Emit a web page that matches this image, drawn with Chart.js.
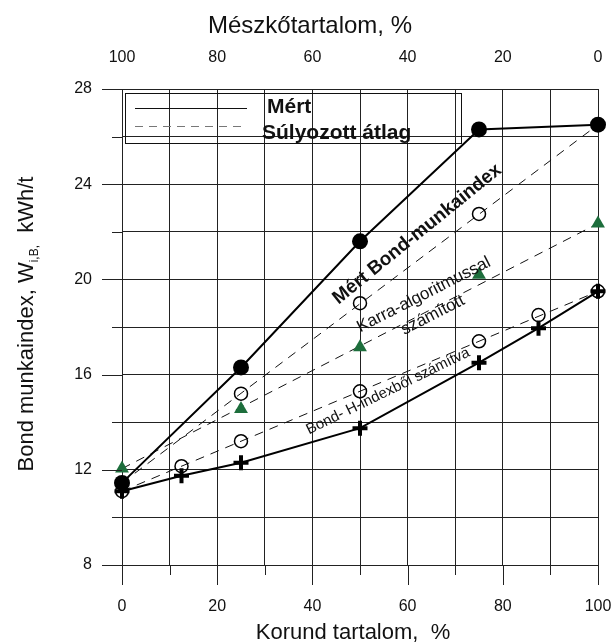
<!DOCTYPE html>
<html><head><meta charset="utf-8">
<script src="https://cdn.jsdelivr.net/npm/chart.js@4/dist/chart.umd.min.js"></script>
<style>html,body{margin:0;padding:0;background:#fff}</style>
</head><body>
<canvas id="c" width="612" height="643" style="width:612px;height:643px;display:block"></canvas>
<script>
// ---- data ----
const measuredX = [0, 25, 50, 75, 100];
const measuredY = [11.45, 16.3, 21.6, 26.3, 26.5];           // Mért Bond-munkaindex
const measuredAvgPtsX = [25, 50, 75];
const measuredAvgPtsY = [15.2, 19.0, 22.75];                  // súlyozott átlag (open circles)
const measuredAvgLineX = [0, 100];
const measuredAvgLineY = [11.45, 26.5];
const karraX = [0, 25, 50, 75, 100];
const karraY = [12.05, 14.55, 17.15, 20.2, 22.35];            // Karra-algoritmussal számított
const karraAvgLineX = [0, 100];
const karraAvgLineY = [12.05, 22.35];
const bondHX = [0, 12.5, 25, 50, 75, 87.5, 100];
const bondHY = [11.1, 11.75, 12.3, 13.75, 16.5, 17.95, 19.5]; // Bond- H-indexből számítva
const bondHAvgPtsY = [11.1, 12.15, 13.2, 15.3, 17.4, 18.5, 19.5];
const bondHAvgLineX = [0, 100];
const bondHAvgLineY = [11.1, 19.5];
const xTickLabels = [0, 20, 40, 60, 80, 100];
const topTickLabels = [100, 80, 60, 40, 20, 0];
const yTickLabels = [8, 12, 16, 20, 24, 28];

const FONT = "'Liberation Sans', Arial, sans-serif";
const pts = (xs, ys) => xs.map((x, i) => ({x, y: ys[i]}));
const GREEN = '#1d6e3c';
const DASH = [9, 7];

const decor = {
  id: 'decor',
  afterDatasetsDraw(chart) {
    const {ctx, chartArea: a, scales: {x, y}} = chart;
    ctx.save();
    // tick extensions
    ctx.strokeStyle = '#222'; ctx.lineWidth = 1;
    for (let v = 0; v <= 100; v += 10) {
      const px = Math.round(x.getPixelForValue(v)) + 0.5;
      ctx.beginPath(); ctx.moveTo(px, a.bottom); ctx.lineTo(px, a.bottom + (v % 20 === 0 ? 20 : 10)); ctx.stroke();
    }
    for (let v = 8; v <= 28; v += 2) {
      const py = Math.round(y.getPixelForValue(v)) + 0.5;
      ctx.beginPath(); ctx.moveTo(a.left, py); ctx.lineTo(a.left - (v % 4 === 0 ? 20 : 10), py); ctx.stroke();
    }
    // legend
    ctx.strokeStyle = '#111';
    ctx.strokeRect(125.5, 93.5, 336, 50);
    ctx.beginPath(); ctx.moveTo(135, 108.5); ctx.lineTo(247, 108.5); ctx.stroke();
    ctx.strokeStyle = '#777'; ctx.setLineDash([8, 6]);
    ctx.beginPath(); ctx.moveTo(135, 126.5); ctx.lineTo(247, 126.5); ctx.stroke();
    ctx.setLineDash([]);
    ctx.fillStyle = '#111';
    ctx.font = 'bold 21px ' + FONT;
    ctx.textAlign = 'left'; ctx.textBaseline = 'alphabetic';
    ctx.fillText('Mért', 267, 113);
    ctx.fillText('Súlyozott átlag', 262, 139);
    // axis titles
    ctx.textAlign = 'center';
    ctx.font = '24px ' + FONT;
    ctx.fillText('Mészkőtartalom, %', 310, 33);
    ctx.font = '22px ' + FONT;
    ctx.fillText('Korund tartalom,  %', 353, 639);
    // annotations
    const rot = (txt, vx, vy, deg, font) => {
      ctx.save();
      ctx.translate(x.getPixelForValue(vx), y.getPixelForValue(vy));
      ctx.rotate(deg * Math.PI / 180);
      ctx.font = font; ctx.textAlign = 'center'; ctx.textBaseline = 'middle';
      ctx.fillText(txt, 0, 0);
      ctx.restore();
    };
    rot('Mért Bond-munkaindex', 62.0, 21.9, -39, 'bold 19px ' + FONT);
    rot('Karra-algoritmussal', 63.4, 19.35, -27, '17px ' + FONT);
    rot('számított', 65.3, 18.5, -27, '17px ' + FONT);
    rot('Bond- H-indexből számítva', 55.9, 15.3, -26, '15px ' + FONT);
    // y-axis title with subscript
    ctx.save();
    ctx.translate(33, 324);
    ctx.rotate(-Math.PI / 2);
    ctx.textAlign = 'left'; ctx.textBaseline = 'alphabetic';
    const f1 = '22px ' + FONT, f2 = '12px ' + FONT;
    const s1 = 'Bond munkaindex, W', s2 = 'i,B,', s3 = '  kWh/t';
    ctx.font = f1; const w1 = ctx.measureText(s1).width, w3 = ctx.measureText(s3).width;
    ctx.font = f2; const w2 = ctx.measureText(s2).width;
    let cx = -(w1 + w2 + w3) / 2;
    ctx.font = f1; ctx.fillText(s1, cx, 0); cx += w1;
    ctx.font = f2; ctx.fillText(s2, cx, 5); cx += w2;
    ctx.font = f1; ctx.fillText(s3, cx, 0);
    ctx.restore();
    ctx.restore();
  }
};

const fixX = s => { s.height = 78; s.paddingLeft = 0; s.paddingRight = 0; };
const fixTop = s => { s.height = 89; s.paddingLeft = 0; s.paddingRight = 0; };
const fixY = s => { s.width = 122; s.paddingTop = 0; s.paddingBottom = 0; };

new Chart(document.getElementById('c'), {
  type: 'scatter',
  data: {
    datasets: [
      { data: pts(measuredX, measuredY), showLine: true, borderColor: '#000', borderWidth: 2, clip: false,
        pointRadius: 8, pointBackgroundColor: '#000', pointBorderColor: '#000', pointBorderWidth: 0 },
      { data: pts(bondHX, bondHY), showLine: true, borderColor: '#000', borderWidth: 2, clip: false,
        pointStyle: 'cross', pointRadius: 7.5, pointBorderWidth: 4, pointBorderColor: '#000' },
      { data: pts(karraX, karraY), showLine: false, pointStyle: 'triangle', pointRadius: 8, clip: false,
        pointBackgroundColor: GREEN, pointBorderColor: GREEN, pointBorderWidth: 0 },
      { data: pts(measuredAvgPtsX, measuredAvgPtsY), showLine: false, pointRadius: 6.5, clip: false,
        pointBackgroundColor: 'rgba(0,0,0,0)', pointBorderColor: '#000', pointBorderWidth: 1.5 },
      { data: pts(bondHX, bondHAvgPtsY), showLine: false, pointRadius: 6.5, clip: false,
        pointBackgroundColor: 'rgba(0,0,0,0)', pointBorderColor: '#000', pointBorderWidth: 1.5 },
      { data: pts(measuredAvgLineX, measuredAvgLineY), showLine: true, borderColor: '#111', borderWidth: 1,
        borderDash: DASH, pointRadius: 0 },
      { data: pts(karraAvgLineX, karraAvgLineY), showLine: true, borderColor: '#111', borderWidth: 1,
        borderDash: DASH, pointRadius: 0 },
      { data: pts(bondHAvgLineX, bondHAvgLineY), showLine: true, borderColor: '#111', borderWidth: 1,
        borderDash: DASH, pointRadius: 0 }
    ]
  },
  options: {
    responsive: false, animation: false, events: [],
    layout: { padding: { left: 0, right: 14, top: 0, bottom: 0 } },
    plugins: { legend: { display: false }, tooltip: { enabled: false } },
    scales: {
      x: {
        type: 'linear', position: 'bottom', min: 0, max: 100,
        afterFit: fixX,
        grid: { color: '#222', lineWidth: 1, drawTicks: false },
        border: { display: false },
        ticks: { stepSize: 10, padding: 32, color: '#111', font: { family: FONT, size: 16 }, maxRotation: 0,
          callback: v => xTickLabels.includes(v) ? String(v) : '' },
        title: { display: false }
      },
      x2: {
        type: 'linear', position: 'top', min: 0, max: 100, reverse: true,
        afterFit: fixTop,
        grid: { display: false, drawTicks: false },
        border: { display: false },
        ticks: { stepSize: 20, padding: 22, color: '#111', font: { family: FONT, size: 16 }, maxRotation: 0,
          callback: v => topTickLabels.includes(v) ? String(v) : '' },
        title: { display: false }
      },
      y: {
        type: 'linear', position: 'left', min: 8, max: 28,
        afterFit: fixY,
        grid: { color: '#222', lineWidth: 1, drawTicks: false },
        border: { display: false },
        ticks: { stepSize: 2, padding: 30, color: '#111', font: { family: FONT, size: 16 },
          callback: v => yTickLabels.includes(v) ? String(v) : '' },
        title: { display: false }
      }
    }
  },
  plugins: [decor]
});
</script>
</body></html>
